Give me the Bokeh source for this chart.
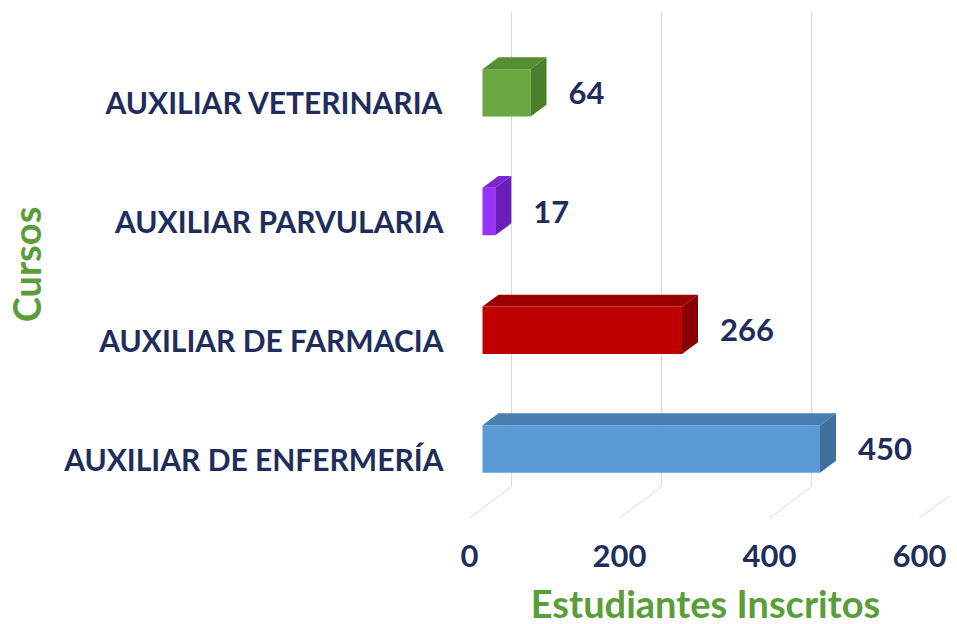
from bokeh.plotting import figure
from bokeh.models import Range1d, FixedTicker
from bokeh.embed import file_html
from bokeh.resources import INLINE
from bokeh.core.properties import value

# ---- data ----
cursos = ["AUXILIAR DE ENFERMERÍA", "AUXILIAR DE FARMACIA",
          "AUXILIAR PARVULARIA", "AUXILIAR VETERINARIA"]
inscritos = [450, 266, 17, 64]
x_ticks = [0, 200, 400, 600]
front_colors = ["#5b9bd5", "#c00000", "#9933ff", "#6aa842"]
top_colors = ["#4a7fb2", "#990000", "#7a26d6", "#558e33"]
side_colors = ["#3f6f9c", "#8a0000", "#6a1fb8", "#4b7f2c"]

NAVY = "#1f2d5c"
GREEN = "#5a9e3a"
FONT = "Lato"

# ---- pseudo-3D projection (style constants) ----
KX = 1 / 0.75          # data-x units per depth pixel
KY = 0.74 / 118.67     # data-y units per depth pixel
D_FRONT, D_BACK, D_WALL = 13, 29, 42
H = 0.2                # half bar thickness (category units)


def px(v, d):
    return v + d * KX


def py(y, d):
    return y + d * KY


p = figure(frame_width=488, frame_height=512,
           x_range=Range1d(-10.667, 640), y_range=Range1d(-0.522, 3.792),
           output_backend="svg", toolbar_location=None,
           min_border_left=461, min_border_right=0, min_border_top=8,
           min_border_bottom=90)
p.outline_line_color = None
p.xgrid.visible = False
p.ygrid.visible = False
p.background_fill_color = "white"
p.border_fill_color = "white"

# back wall gridlines and floor diagonals
ncat = len(cursos)
y_floor = -0.5
y_top = ncat - 0.5
p.segment(x0=[px(v, D_WALL) for v in x_ticks], y0=[py(y_floor, D_WALL)] * len(x_ticks),
          x1=[px(v, D_WALL) for v in x_ticks], y1=[py(y_top, D_WALL)] * len(x_ticks),
          line_color="#d9d9d9", line_width=1)
p.segment(x0=[px(v, 0) for v in x_ticks], y0=[py(y_floor, 0)] * len(x_ticks),
          x1=[px(v, D_WALL) for v in x_ticks], y1=[py(y_floor, D_WALL)] * len(x_ticks),
          line_color="#d9d9d9", line_width=1)

# bars
for i, v in enumerate(inscritos):
    # front
    p.quad(left=px(0, D_FRONT), right=px(v, D_FRONT),
           bottom=py(i - H, D_FRONT), top=py(i + H, D_FRONT),
           fill_color=front_colors[i], line_color=None)
    # top face
    p.patch(x=[px(0, D_FRONT), px(v, D_FRONT), px(v, D_BACK), px(0, D_BACK)],
            y=[py(i + H, D_FRONT), py(i + H, D_FRONT), py(i + H, D_BACK), py(i + H, D_BACK)],
            fill_color=top_colors[i], line_color=None)
    # side face
    p.patch(x=[px(v, D_FRONT), px(v, D_BACK), px(v, D_BACK), px(v, D_FRONT)],
            y=[py(i - H, D_FRONT), py(i - H, D_BACK), py(i + H, D_BACK), py(i + H, D_FRONT)],
            fill_color=side_colors[i], line_color=None)

# value labels
p.text(x=[px(v, D_BACK) for v in inscritos],
       y=[py(i, D_FRONT) for i in range(ncat)],
       text=[str(v) for v in inscritos], x_offset=22,
       text_font=value(FONT), text_font_style="bold", text_font_size="31px",
       text_color=NAVY, text_align="left", text_baseline="middle")

# axes
p.xaxis.ticker = FixedTicker(ticks=x_ticks)
p.xaxis.axis_line_color = None
p.xaxis.major_tick_line_color = None
p.xaxis.minor_tick_line_color = None
p.xaxis.major_tick_out = 0
p.xaxis.major_label_text_font = FONT
p.xaxis.major_label_text_font_style = "bold"
p.xaxis.major_label_text_font_size = "31px"
p.xaxis.major_label_text_color = NAVY
p.xaxis.major_label_standoff = 24
p.xaxis.axis_label = "Estudiantes Inscritos"
p.xaxis.axis_label_text_font = FONT
p.xaxis.axis_label_text_font_style = "bold"
p.xaxis.axis_label_text_font_size = "38px"
p.xaxis.axis_label_text_color = GREEN
p.xaxis.axis_label_standoff = 10

p.yaxis.ticker = FixedTicker(ticks=list(range(ncat)))
p.yaxis.major_label_overrides = {i: c for i, c in enumerate(cursos)}
p.yaxis.axis_line_color = None
p.yaxis.major_tick_line_color = None
p.yaxis.minor_tick_line_color = None
p.yaxis.major_label_text_font = FONT
p.yaxis.major_label_text_font_style = "bold"
p.yaxis.major_label_text_font_size = "30px"
p.yaxis.major_label_text_color = NAVY
p.yaxis.major_label_standoff = 12
p.yaxis.axis_label = "Cursos"
p.yaxis.axis_label_text_font = FONT
p.yaxis.axis_label_text_font_style = "bold"
p.yaxis.axis_label_text_font_size = "38px"
p.yaxis.axis_label_text_color = GREEN
p.yaxis.axis_label_standoff = 12

open("out.html", "w").write(file_html(p, INLINE))
